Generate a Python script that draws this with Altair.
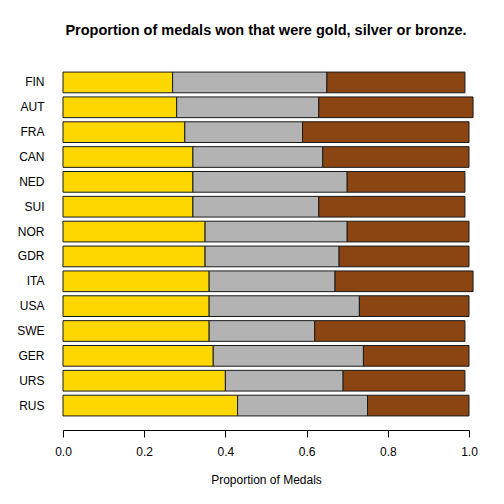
import altair as alt
import pandas as pd

countries = ["FIN", "AUT", "FRA", "CAN", "NED", "SUI", "NOR", "GDR", "ITA", "USA", "SWE", "GER", "URS", "RUS"]
gold = [0.27, 0.28, 0.30, 0.32, 0.32, 0.32, 0.35, 0.35, 0.36, 0.36, 0.36, 0.37, 0.40, 0.43]
silver = [0.38, 0.35, 0.29, 0.32, 0.38, 0.31, 0.35, 0.33, 0.31, 0.37, 0.26, 0.37, 0.29, 0.32]
bronze = [0.34, 0.38, 0.41, 0.36, 0.29, 0.36, 0.30, 0.32, 0.34, 0.27, 0.37, 0.26, 0.30, 0.25]
medals = ["Gold", "Silver", "Bronze"]
medal_colors = ["#FFD700", "#B3B3B3", "#8B4513"]

rows = []
for i, c in enumerate(countries):
    for k, (m, v) in enumerate(zip(medals, [gold[i], silver[i], bronze[i]])):
        rows.append({"country": c, "medal": m, "value": v, "ord": k})
df = pd.DataFrame(rows)

FONT = "Liberation Sans"

chart = alt.Chart(df).mark_bar(stroke="#1a1a1a", strokeWidth=1).encode(
    y=alt.Y("country:N", sort=countries,
            scale=alt.Scale(paddingInner=0.167, paddingOuter=0.0835),
            axis=alt.Axis(title=None, domain=False, ticks=False, tickSize=0,
                          labelPadding=19, labelFontSize=12, labelFont=FONT,
                          labelColor="#000000")),
    x=alt.X("value:Q", stack="zero",
            scale=alt.Scale(domain=[0, 1], nice=False),
            axis=alt.Axis(title="Proportion of Medals", values=[0, 0.2, 0.4, 0.6, 0.8, 1.0],
                          format=".1f", grid=False, offset=12, tickSize=7, labelFlush=False,
                          domainColor="#000000", tickColor="#000000",
                          labelPadding=9, labelFontSize=12, labelFont=FONT, labelColor="#000000",
                          titleFont=FONT, titleFontSize=12, titleFontWeight="normal",
                          titlePadding=17, titleColor="#000000")),
    color=alt.Color("medal:N", scale=alt.Scale(domain=medals, range=medal_colors), legend=None),
    order=alt.Order("ord:Q", sort="ascending"),
).properties(
    width=406,
    height=348,
    title=alt.TitleParams("Proportion of medals won that were gold, silver or bronze.",
                          font=FONT, fontSize=14.5, fontWeight="bold", color="#000000",
                          anchor="middle", baseline="alphabetic", offset=21),
    autosize=alt.AutoSizeParams(type="none"),
    padding={"left": 55, "top": 62, "right": 27, "bottom": 80},
).configure_view(stroke=None)

chart.save("out.html", embed_options={"renderer": "svg", "actions": False})
